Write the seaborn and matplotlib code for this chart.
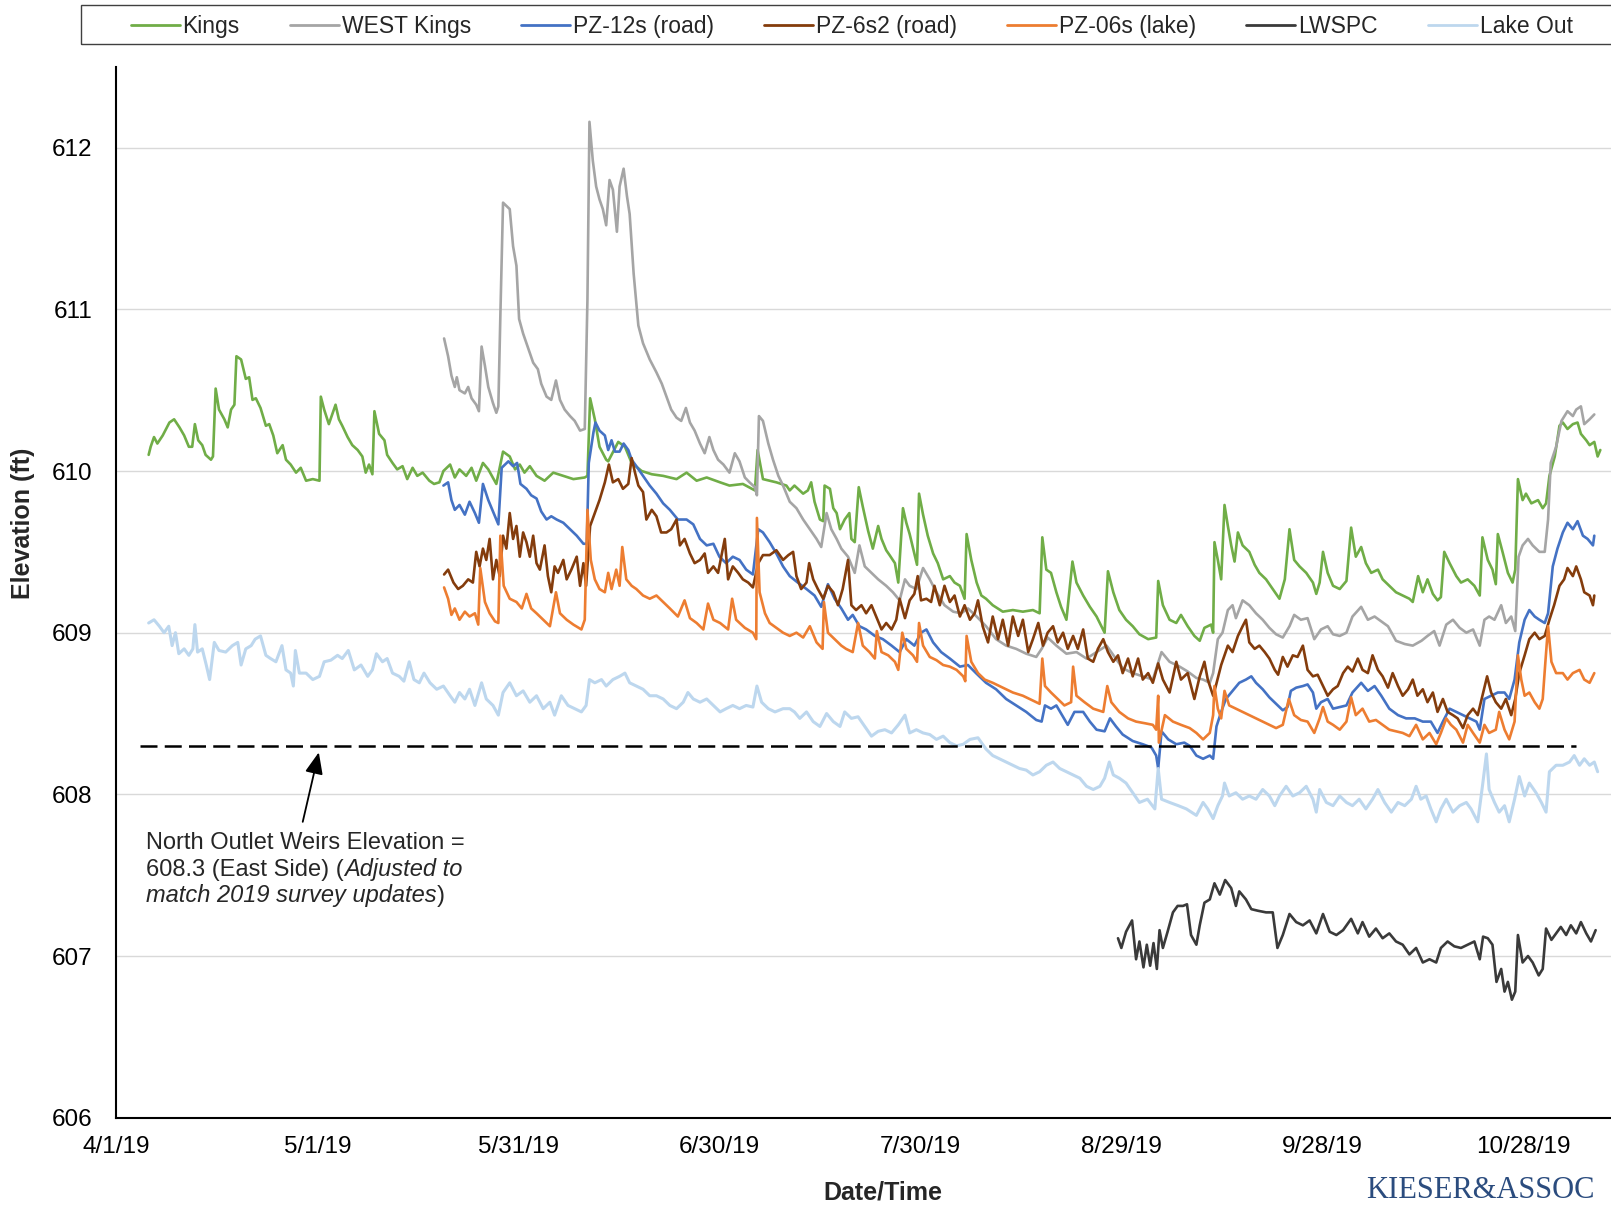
import numpy as np
import pandas as pd
import matplotlib
matplotlib.use("Agg")
import matplotlib.pyplot as plt
from matplotlib.lines import Line2D
from matplotlib.patches import Rectangle
import seaborn as sns

# ---------------- data (days after 4/1/19, elevation ft) ----------------
kings_days = [4.4, 4.7, 5.2, 5.7, 6.5, 7.0, 7.5, 8.2, 9.0, 9.7, 10.4, 10.9, 11.3, 11.8, 12.4, 12.9, 13.7, 14.0, 14.4, 14.9,
              15.7, 16.2, 16.7, 17.2, 17.5, 18.2, 18.9, 19.4, 19.9, 20.4, 21.1, 21.9, 22.4, 23.0, 23.6, 24.4, 24.9, 25.6, 26.4, 27.1,
              27.9, 28.9, 29.9, 30.1, 30.6, 31.3, 31.8, 32.3, 32.8, 33.3, 34.1, 34.8, 35.6, 36.3, 36.8, 37.3, 37.8, 38.1, 38.8, 39.6,
              40.0, 40.8, 41.5, 42.3, 43.0, 43.8, 44.5, 45.3, 46.3, 47.0, 47.8, 48.4, 49.4, 50.1, 50.8, 51.8, 52.6, 53.3, 54.3, 55.1,
              56.3, 57.3, 58.3, 59.1, 59.8, 60.5, 61.3, 62.3, 63.5, 64.8, 66.3, 67.8, 69.5, 69.9, 70.3, 71.0, 71.7, 72.7, 73.0, 74.5,
              75.5, 76.5, 78.0, 79.5, 81.2, 83.2, 84.7, 86.2, 87.7, 89.7, 91.1, 93.1, 94.9, 95.3, 96.1, 98.1, 99.6,
              100.1, 100.8, 102.1, 102.8, 103.3, 103.8, 104.6, 105.1, 105.3, 106.1, 106.6, 107.1, 107.6, 108.3, 109.0, 109.3, 109.8,
              110.4, 111.0, 111.8, 112.5, 113.3, 113.8, 114.5, 115.0, 115.8, 116.3, 117.0, 117.5, 118.0, 118.7, 119.1, 119.4, 120.0,
              120.7, 121.5, 122.2, 123.0, 124.0, 124.7, 125.5, 126.2, 126.5, 127.2, 128.0, 128.7, 129.4, 130.4, 131.9, 133.4, 134.9,
              136.4, 137.4, 137.8, 138.4, 139.1, 139.9, 140.6, 141.4, 142.3, 142.9, 143.9, 144.9, 145.9, 147.1, 147.6, 148.4, 149.3,
              150.3, 151.3, 152.3, 153.6, 154.8, 155.1, 155.8, 156.8, 157.8, 158.5, 159.5,
              160.5, 161.3, 162.0, 163.0, 163.3, 163.5, 164.0, 164.5, 165.0, 165.5, 166.0, 166.5, 167.0, 167.7, 168.7, 169.5, 170.2,
              171.2, 172.2, 173.2, 174.0, 174.7, 175.4, 176.2, 177.2, 178.2, 178.7, 179.2, 179.7, 180.4, 181.2, 182.2, 183.2, 183.9,
              184.6, 185.4, 186.1, 186.9, 187.9, 188.6, 189.6, 190.6, 191.6, 192.6, 193.1, 193.9, 194.6, 195.3, 196.1, 196.8, 197.3,
              197.8, 198.6, 199.6, 200.3, 201.3, 202.3, 203.1, 203.5, 204.3, 205.0, 205.5, 205.8, 206.5, 207.3, 208.0, 208.4, 208.8,
              209.5, 210.0, 210.8, 211.8, 212.5, 213.0, 213.5, 214.3, 215.0, 215.5, 216.2, 217.0, 217.7, 218.2, 219.0, 219.5, 220.2,
              220.7, 221.1]
kings_elev = [610.10, 610.15, 610.21, 610.17, 610.22, 610.26, 610.30, 610.32, 610.27, 610.22, 610.15, 610.15, 610.29, 610.19, 610.16, 610.10, 610.07, 610.09, 610.51, 610.38,
              610.32, 610.27, 610.38, 610.41, 610.71, 610.69, 610.57, 610.58, 610.44, 610.45, 610.39, 610.28, 610.29, 610.22, 610.11, 610.16, 610.07, 610.04, 609.99, 610.02,
              609.94, 609.95, 609.94, 610.46, 610.38, 610.29, 610.35, 610.41, 610.32, 610.28, 610.21, 610.16, 610.13, 610.09, 609.99, 610.04, 609.98, 610.37, 610.23, 610.19,
              610.10, 610.05, 610.01, 610.03, 609.95, 610.02, 609.97, 609.99, 609.94, 609.92, 609.93, 610.00, 610.04, 609.96, 610.01, 609.97, 610.02, 609.94, 610.05, 610.01,
              609.92, 610.12, 610.09, 610.01, 610.04, 609.99, 610.03, 609.97, 609.94, 609.99, 609.97, 609.95, 609.96, 609.97, 610.45, 610.32, 610.15, 610.07, 610.06, 610.18,
              610.15, 610.05, 610.00, 609.98, 609.97, 609.95, 609.99, 609.94, 609.96, 609.93, 609.91, 609.92, 609.88, 610.13, 609.95, 609.93, 609.91,
              609.88, 609.91, 609.86, 609.88, 609.93, 609.81, 609.70, 609.69, 609.91, 609.89, 609.77, 609.74, 609.64, 609.70, 609.74, 609.58, 609.56,
              609.90, 609.78, 609.63, 609.52, 609.66, 609.58, 609.51, 609.48, 609.43, 609.31, 609.77, 609.68, 609.61, 609.49, 609.42, 609.86, 609.73,
              609.60, 609.49, 609.43, 609.33, 609.35, 609.31, 609.29, 609.21, 609.61, 609.45, 609.31, 609.23, 609.21, 609.17, 609.13, 609.14, 609.13,
              609.14, 609.12, 609.59, 609.39, 609.37, 609.25, 609.16, 609.08, 609.44, 609.31, 609.23, 609.16, 609.10, 609.00, 609.38, 609.25, 609.14,
              609.08, 609.04, 608.99, 608.96, 608.97, 609.32, 609.17, 609.08, 609.06, 609.11, 609.04,
              608.98, 608.95, 609.03, 609.05, 609.00, 609.56, 609.45, 609.33, 609.79, 609.66, 609.54, 609.44, 609.62, 609.54, 609.50, 609.42, 609.37,
              609.33, 609.27, 609.21, 609.33, 609.64, 609.45, 609.41, 609.37, 609.31, 609.24, 609.31, 609.50, 609.37, 609.29, 609.27, 609.32, 609.65,
              609.47, 609.53, 609.43, 609.37, 609.39, 609.33, 609.29, 609.25, 609.23, 609.21, 609.19, 609.35, 609.25, 609.33, 609.24, 609.20, 609.22,
              609.50, 609.43, 609.35, 609.31, 609.33, 609.29, 609.23, 609.59, 609.45, 609.39, 609.30, 609.61, 609.50, 609.37, 609.31, 609.39, 609.95,
              609.82, 609.86, 609.80, 609.82, 609.77, 609.80, 609.97, 610.09, 610.28, 610.30, 610.26, 610.29, 610.30, 610.23, 610.19, 610.16, 610.18,
              610.09, 610.13]

west_days = [48.5, 49.1, 49.6, 50.1, 50.4, 50.8, 51.6, 52.1, 52.6, 53.3, 53.7, 54.1, 54.6, 55.1, 55.8, 56.3, 56.6, 56.9, 57.3, 57.8,
             58.3, 58.8, 59.3, 59.7, 60.3, 60.8, 61.3, 61.8, 62.5, 63.0, 63.8, 64.5, 65.2, 65.8, 66.5, 67.3, 68.0, 68.8, 69.5, 69.9,
             70.2, 70.7, 71.2, 71.7, 72.2, 72.7, 73.2, 73.7, 74.3, 74.7, 75.3, 75.8, 76.2, 76.8, 77.5, 78.2, 79.2, 80.2, 81.0, 81.7,
             82.4, 83.2, 83.9, 84.6, 85.2, 85.9, 86.7, 87.4, 88.1, 88.7, 89.4, 90.2, 91.1, 91.9, 92.6, 93.4, 94.1, 94.9, 95.2, 95.5,
             96.1, 96.9, 97.6, 98.4, 99.1,
             100.1, 101.1, 102.1, 103.1, 104.1, 104.8, 105.6, 106.3, 107.1, 107.8, 108.8, 109.8, 110.5, 111.3, 112.3, 113.3, 114.5,
             115.5, 116.5, 117.3, 118.0, 119.0, 120.0, 121.0, 122.0, 123.2, 124.5, 125.7, 126.7, 128.0, 129.4, 130.9, 132.4, 133.9,
             135.4, 136.9, 137.7, 138.6, 139.9, 141.4, 142.9, 144.4, 145.9, 147.4, 148.6, 149.8, 151.3, 152.8, 154.3, 155.6, 156.8,
             158.3, 159.5,
             160.8, 161.8, 162.8, 163.3, 164.0, 164.7, 165.5, 166.2, 166.7, 167.7, 168.7, 169.7, 170.7, 171.7, 172.7, 173.7, 174.7,
             175.4, 176.4, 177.4, 178.4, 179.4, 180.4, 181.2, 182.2, 183.2, 184.1, 185.4, 186.4, 187.4, 188.4, 189.4, 190.6, 191.9,
             193.1, 194.4, 195.3, 196.3, 197.1, 198.1, 199.1, 200.1, 201.1, 202.1, 203.1, 203.8, 204.5, 205.3, 206.3, 207.0, 207.8,
             208.4, 208.9, 209.5, 210.3, 211.0, 212.0, 212.8, 213.3, 213.7, 214.5, 215.3, 216.2, 217.0, 217.5, 218.2, 218.7, 219.5,
             220.2]
west_elev = [610.82, 610.71, 610.59, 610.52, 610.58, 610.50, 610.48, 610.52, 610.45, 610.41, 610.37, 610.77, 610.65, 610.52, 610.42, 610.36, 610.40, 610.96, 611.66, 611.64,
             611.62, 611.39, 611.27, 610.94, 610.85, 610.79, 610.73, 610.67, 610.63, 610.54, 610.46, 610.44, 610.56, 610.44, 610.38, 610.34, 610.31, 610.25, 610.26, 611.06,
             612.16, 611.92, 611.76, 611.68, 611.62, 611.52, 611.80, 611.74, 611.48, 611.76, 611.87, 611.70, 611.59, 611.22, 610.90, 610.79, 610.69, 610.61, 610.54, 610.46,
             610.38, 610.33, 610.31, 610.39, 610.30, 610.25, 610.17, 610.11, 610.21, 610.13, 610.07, 610.04, 609.99, 610.11, 610.06, 609.96, 609.93, 609.90, 609.85, 610.34,
             610.31, 610.17, 610.07, 609.97, 609.91,
             609.81, 609.77, 609.70, 609.64, 609.58, 609.53, 609.74, 609.64, 609.58, 609.52, 609.47, 609.37, 609.54, 609.41, 609.37, 609.33, 609.29,
             609.25, 609.20, 609.33, 609.29, 609.27, 609.40, 609.33, 609.25, 609.17, 609.13, 609.12, 609.15, 609.10, 609.04, 608.96, 608.92, 608.90,
             608.87, 608.85, 608.90, 608.97, 608.92, 608.87, 608.88, 608.84, 608.88, 608.92, 608.85, 608.78, 608.75, 608.73, 608.71, 608.88, 608.82,
             608.79, 608.76,
             608.72, 608.71, 608.69, 608.75, 608.96, 609.00, 609.14, 609.17, 609.09, 609.20, 609.17, 609.12, 609.08, 609.03, 608.99, 608.97, 609.04,
             609.11, 609.08, 609.09, 608.96, 609.02, 609.04, 608.99, 608.98, 609.00, 609.10, 609.16, 609.08, 609.10, 609.07, 609.04, 608.95, 608.93,
             608.92, 608.95, 608.98, 609.01, 608.92, 609.05, 609.08, 609.03, 609.00, 609.02, 608.92, 609.08, 609.10, 609.08, 609.17, 609.06, 609.10,
             609.01, 609.47, 609.54, 609.58, 609.54, 609.50, 609.50, 609.70, 610.05, 610.15, 610.31, 610.37, 610.34, 610.38, 610.40, 610.29, 610.32,
             610.35]

pz12_days = [48.4, 49.1, 49.6, 50.1, 50.8, 51.6, 52.3, 53.1, 53.7, 54.3, 55.1, 55.8, 56.6, 57.1, 58.1, 58.8, 59.4, 59.9, 60.8, 61.5,
             62.3, 63.0, 63.8, 64.5, 65.3, 66.3, 67.3, 68.3, 69.3, 69.8, 70.1, 70.8, 71.1, 71.7, 72.5, 73.0, 73.5, 74.0, 74.7, 75.3,
             76.0, 76.5, 77.2, 78.2, 79.2, 80.2, 81.2, 82.2, 83.4, 84.7, 85.7, 86.7, 87.7, 88.7, 89.6, 90.6, 91.6, 92.6, 93.6, 94.6,
             95.4, 96.1, 97.1, 98.1, 99.1, 100.1,
             101.3, 102.6, 103.8, 104.8, 105.8, 106.8, 107.8, 108.8, 109.5, 110.5, 111.5, 112.8, 114.0, 115.3, 116.5, 117.5, 118.7,
             119.7, 120.5, 121.5, 122.7, 124.0, 125.5, 126.7, 127.9, 129.4, 130.9, 132.4, 133.9, 135.4, 136.9, 137.7, 138.2, 139.1,
             139.9, 140.9, 141.6, 142.6, 143.9, 144.9, 145.9, 147.1, 147.9, 148.8, 149.8, 151.3, 152.8, 154.1, 154.8, 155.1, 155.6,
             156.6, 157.8, 159.0,
             159.8, 160.8, 161.8, 162.8, 163.3, 163.8, 164.5, 165.2, 166.2, 167.2, 168.2, 169.0, 169.7, 170.7, 171.7, 172.7, 173.7,
             174.4, 174.9, 175.7, 176.7, 177.4, 178.2, 178.7, 179.4, 180.4, 181.2, 182.2, 183.2, 184.1, 185.4, 186.4, 187.4, 188.4,
             189.6, 190.9, 192.1, 193.4, 194.6, 195.8, 196.8, 197.6, 198.6, 199.6, 200.6, 201.6, 202.6, 203.1, 203.8, 204.8, 205.8,
             206.8, 207.5, 208.3, 209.0, 209.8, 210.5, 211.3, 212.0, 212.8, 213.3, 214.0, 214.7, 215.5, 216.2, 217.0, 217.7, 218.5,
             219.2, 220.0, 220.2]
pz12_elev = [609.91, 609.93, 609.82, 609.76, 609.79, 609.73, 609.81, 609.74, 609.68, 609.92, 609.82, 609.75, 609.67, 610.02, 610.06, 610.03, 610.05, 609.92, 609.89, 609.85,
             609.83, 609.75, 609.70, 609.72, 609.70, 609.68, 609.64, 609.60, 609.55, 609.55, 610.05, 610.24, 610.30, 610.25, 610.22, 610.13, 610.19, 610.12, 610.12, 610.17,
             610.13, 610.07, 610.03, 609.97, 609.91, 609.86, 609.80, 609.76, 609.70, 609.70, 609.67, 609.58, 609.54, 609.55, 609.47, 609.43, 609.47, 609.45, 609.39, 609.36,
             609.64, 609.62, 609.56, 609.49, 609.41, 609.35,
             609.31, 609.27, 609.23, 609.16, 609.30, 609.21, 609.15, 609.08, 609.11, 609.04, 609.02, 608.98, 608.96, 608.92, 608.88, 608.96, 608.92,
             609.00, 609.02, 608.94, 608.88, 608.84, 608.79, 608.80, 608.75, 608.69, 608.65, 608.59, 608.55, 608.51, 608.46, 608.45, 608.55, 608.53,
             608.55, 608.48, 608.43, 608.51, 608.51, 608.45, 608.40, 608.39, 608.47, 608.42, 608.37, 608.33, 608.31, 608.29, 608.24, 608.16, 608.39,
             608.34, 608.31, 608.32,
             608.30, 608.24, 608.22, 608.24, 608.22, 608.42, 608.51, 608.59, 608.64, 608.69, 608.71, 608.73, 608.69, 608.65, 608.60, 608.56, 608.52,
             608.54, 608.64, 608.66, 608.67, 608.68, 608.63, 608.53, 608.57, 608.59, 608.53, 608.54, 608.55, 608.63, 608.69, 608.64, 608.67, 608.61,
             608.53, 608.49, 608.47, 608.47, 608.45, 608.45, 608.38, 608.45, 608.53, 608.51, 608.49, 608.47, 608.45, 608.40, 608.59, 608.61, 608.63,
             608.63, 608.59, 608.71, 608.94, 609.08, 609.14, 609.10, 609.08, 609.06, 609.12, 609.41, 609.52, 609.62, 609.68, 609.64, 609.69, 609.60,
             609.58, 609.54, 609.60]

pz6_days = [48.5, 49.1, 49.9, 50.6, 51.3, 52.1, 52.8, 53.3, 53.8, 54.3, 54.8, 55.3, 55.8, 56.3, 56.8, 57.3, 57.8, 58.3, 58.8, 59.3,
            59.8, 60.3, 60.8, 61.3, 61.8, 62.3, 62.8, 63.5, 64.0, 64.5, 65.0, 65.5, 66.3, 66.8, 67.5, 68.3, 68.8, 69.3, 69.7, 70.3,
            71.0, 71.7, 72.5, 73.1, 73.7, 74.5, 75.2, 76.0, 76.5, 77.0, 77.5, 78.2, 78.7, 79.5, 80.2, 80.9, 81.7, 82.4, 83.2, 83.7,
            84.4, 85.2, 85.9, 86.7, 87.4, 87.9, 88.7, 89.4, 90.4, 90.9, 91.6, 92.4, 93.1, 93.9, 94.6, 95.4, 96.1, 97.1, 98.1, 99.1,
            99.9,
            100.6, 101.1, 101.8, 102.6, 103.0, 103.6, 104.3, 105.1, 105.8, 106.6, 107.3, 108.0, 108.8, 109.3, 110.0, 110.8, 111.5,
            112.3, 113.0, 113.8, 114.5, 115.3, 116.0, 116.5, 117.3, 118.0, 118.7, 119.2, 119.7, 120.5, 121.2, 121.7, 122.5, 123.2,
            124.0, 124.7, 125.5, 126.2, 127.0, 127.7, 128.2, 128.9, 129.7, 130.4, 131.2, 131.9, 132.7, 133.4, 134.2, 134.9, 135.7,
            136.4, 137.2, 137.9, 138.6, 139.4, 140.1, 140.9, 141.6, 142.4, 143.1, 143.9, 144.6, 145.4, 146.1, 146.9, 147.6, 148.4,
            149.1, 149.8, 150.6, 151.3, 152.1, 152.8, 153.6, 154.3, 155.1, 155.8, 156.8, 157.8, 158.5, 159.5,
            160.5, 161.3, 162.0, 162.5, 163.3, 163.7, 164.5, 165.0, 165.5, 166.2, 167.0, 167.7, 168.2, 168.7, 169.5, 170.2, 171.0,
            171.7, 172.5, 173.0, 173.7, 174.4, 175.2, 175.9, 176.7, 177.4, 178.2, 178.9, 179.7, 180.4, 181.2, 181.9, 182.7, 183.4,
            184.1, 184.9, 185.6, 186.4, 187.1, 187.9, 188.6, 189.4, 190.1, 190.9, 191.6, 192.4, 193.1, 193.8, 194.6, 195.3, 196.1,
            196.8, 197.6, 198.3, 199.1, 199.8, 200.6, 201.3, 202.1, 202.8, 203.5, 204.2, 204.8, 205.5, 206.3, 207.0, 207.8, 208.4,
            209.0, 209.8, 210.5, 211.3, 212.0, 212.8, 213.5, 214.2, 215.0, 215.7, 216.2, 217.0, 217.5, 218.2, 218.7, 219.5, 220.0,
            220.2]
pz6_elev = [609.36, 609.39, 609.31, 609.27, 609.29, 609.33, 609.31, 609.50, 609.41, 609.52, 609.45, 609.58, 609.33, 609.45, 609.35, 609.60, 609.52, 609.74, 609.58, 609.66,
            609.47, 609.62, 609.56, 609.47, 609.60, 609.43, 609.39, 609.54, 609.35, 609.25, 609.41, 609.37, 609.45, 609.33, 609.39, 609.47, 609.29, 609.43, 609.29, 609.66,
            609.74, 609.82, 609.93, 610.04, 609.93, 609.95, 609.89, 609.92, 610.08, 609.99, 609.91, 609.87, 609.70, 609.76, 609.72, 609.62, 609.62, 609.64, 609.70, 609.54,
            609.58, 609.49, 609.43, 609.45, 609.49, 609.37, 609.41, 609.37, 609.58, 609.33, 609.41, 609.37, 609.33, 609.31, 609.28, 609.43, 609.48, 609.48, 609.51, 609.45,
            609.48,
            609.50, 609.35, 609.27, 609.31, 609.43, 609.33, 609.27, 609.21, 609.29, 609.25, 609.17, 609.27, 609.45, 609.17, 609.14, 609.17, 609.12,
            609.17, 609.10, 609.02, 609.06, 609.02, 609.08, 609.21, 609.09, 609.20, 609.24, 609.35, 609.20, 609.21, 609.19, 609.29, 609.17, 609.29,
            609.19, 609.23, 609.10, 609.17, 609.08, 609.12, 609.20, 609.04, 608.94, 609.10, 608.96, 609.08, 608.92, 609.10, 608.98, 609.08, 608.88,
            608.96, 609.06, 608.92, 609.00, 609.04, 608.94, 609.00, 608.90, 608.98, 608.90, 609.02, 608.84, 608.82, 608.90, 608.96, 608.88, 608.82,
            608.86, 608.75, 608.84, 608.73, 608.84, 608.71, 608.75, 608.69, 608.81, 608.71, 608.63, 608.82, 608.71, 608.75,
            608.59, 608.73, 608.82, 608.71, 608.61, 608.67, 608.80, 608.86, 608.92, 608.88, 608.98, 609.04, 609.08, 608.94, 608.90, 608.92, 608.88,
            608.84, 608.77, 608.74, 608.85, 608.79, 608.86, 608.85, 608.92, 608.77, 608.73, 608.74, 608.67, 608.61, 608.65, 608.67, 608.75, 608.79,
            608.76, 608.84, 608.77, 608.75, 608.86, 608.77, 608.73, 608.66, 608.75, 608.67, 608.61, 608.65, 608.71, 608.61, 608.65, 608.57, 608.63,
            608.51, 608.59, 608.51, 608.49, 608.47, 608.41, 608.49, 608.53, 608.49, 608.61, 608.73, 608.63, 608.57, 608.53, 608.59, 608.49, 608.59,
            608.75, 608.86, 608.96, 609.00, 608.96, 608.98, 609.08, 609.17, 609.29, 609.33, 609.40, 609.35, 609.41, 609.33, 609.25, 609.23, 609.17,
            609.23]

pz06_days = [48.5, 49.1, 49.6, 50.1, 50.8, 51.6, 52.3, 53.1, 53.6, 53.9, 54.6, 55.3, 56.1, 56.6, 56.9, 57.4, 58.3, 59.3, 60.1, 60.8,
             61.5, 62.3, 63.3, 64.3, 65.2, 65.8, 66.8, 67.8, 69.0, 69.5, 69.9, 70.4, 71.0, 71.7, 72.5, 73.0, 73.5, 74.2, 74.7, 75.1,
             75.7, 76.5, 77.2, 78.2, 79.2, 80.2, 81.2, 82.2, 83.4, 84.4, 85.2, 86.2, 87.2, 87.9, 88.7, 89.7, 90.9, 91.5, 92.1, 93.4,
             94.6, 95.1, 95.2, 95.6, 96.4, 97.1, 98.1, 99.1,
             100.1, 101.1, 102.1, 103.1, 104.1, 105.0, 105.2, 105.8, 106.8, 107.8, 108.5, 109.5, 110.3, 111.0, 112.0, 112.8, 113.1,
             113.8, 114.8, 115.8, 116.3, 116.9, 117.5, 118.5, 119.1, 119.4, 120.0, 121.0, 122.0, 123.0, 124.0, 125.0, 126.0, 126.3,
             126.5, 127.2, 128.2, 129.2, 130.4, 131.9, 133.4, 134.9, 136.4, 137.4, 137.8, 138.2, 139.1, 140.1, 141.1, 142.1, 142.4,
             142.9, 144.1, 145.4, 146.9, 147.5, 148.1, 149.3, 150.6, 151.8, 153.1, 154.3, 154.8, 155.1, 155.2, 156.1, 157.3, 158.5,
             159.8,
             160.8, 161.8, 162.8, 163.3, 163.5, 164.0, 164.5, 165.0, 165.7, 166.7, 167.7, 168.7, 169.7, 170.7, 171.7, 172.7, 173.7,
             174.6, 175.4, 176.4, 177.4, 178.4, 179.2, 179.7, 180.4, 181.2, 182.2, 183.2, 183.9, 184.6, 185.6, 186.6, 187.6, 188.6,
             189.6, 190.6, 191.6, 192.6, 193.6, 194.6, 195.6, 196.6, 197.3, 198.1, 198.8, 199.6, 200.6, 201.3, 202.1, 203.1, 203.8,
             204.5, 205.5, 206.0, 206.8, 207.5, 208.3, 208.8, 209.3, 209.8, 210.5, 211.3, 212.0, 212.5, 212.9, 213.3, 213.8, 214.5,
             215.5, 216.2, 217.0, 218.0, 218.7, 219.5, 220.2]
pz06_elev = [609.28, 609.21, 609.11, 609.15, 609.08, 609.13, 609.10, 609.12, 609.05, 609.40, 609.19, 609.12, 609.07, 609.06, 609.60, 609.29, 609.21, 609.19, 609.15, 609.24,
             609.15, 609.12, 609.08, 609.04, 609.25, 609.12, 609.08, 609.05, 609.02, 609.08, 609.76, 609.45, 609.33, 609.27, 609.25, 609.37, 609.27, 609.39, 609.29, 609.53,
             609.33, 609.29, 609.27, 609.23, 609.21, 609.23, 609.19, 609.15, 609.10, 609.20, 609.09, 609.06, 609.02, 609.18, 609.08, 609.06, 609.02, 609.21, 609.08, 609.03,
             609.00, 608.96, 609.71, 609.25, 609.12, 609.06, 609.03, 609.00,
             608.98, 609.00, 608.97, 609.04, 608.94, 608.90, 609.19, 609.00, 608.96, 608.92, 608.90, 608.88, 609.06, 608.92, 608.88, 608.84, 609.01,
             608.88, 608.86, 608.82, 608.77, 609.00, 608.90, 608.86, 608.82, 609.06, 608.92, 608.85, 608.83, 608.80, 608.79, 608.77, 608.73, 608.70,
             608.98, 608.82, 608.75, 608.71, 608.69, 608.66, 608.63, 608.61, 608.58, 608.56, 608.84, 608.67, 608.63, 608.59, 608.55, 608.57, 608.79,
             608.61, 608.57, 608.53, 608.51, 608.67, 608.57, 608.51, 608.47, 608.45, 608.44, 608.43, 608.40, 608.61, 608.32, 608.49, 608.45, 608.43,
             608.41,
             608.38, 608.34, 608.38, 608.49, 608.67, 608.53, 608.47, 608.64, 608.55, 608.53, 608.51, 608.49, 608.47, 608.45, 608.43, 608.41, 608.43,
             608.59, 608.49, 608.46, 608.45, 608.38, 608.47, 608.54, 608.45, 608.43, 608.40, 608.45, 608.60, 608.49, 608.53, 608.45, 608.46, 608.43,
             608.40, 608.39, 608.38, 608.36, 608.43, 608.34, 608.38, 608.31, 608.38, 608.47, 608.43, 608.40, 608.32, 608.43, 608.38, 608.32, 608.43,
             608.38, 608.40, 608.51, 608.40, 608.34, 608.45, 608.86, 608.71, 608.61, 608.63, 608.57, 608.53, 608.59, 608.82, 609.04, 608.82, 608.75,
             608.75, 608.71, 608.75, 608.77, 608.71, 608.69, 608.75]

lwspc_days = [149.1, 149.6, 150.3, 151.2, 151.8, 152.3, 152.9, 153.4, 153.9, 154.4, 154.9, 155.3, 155.8, 156.5, 157.3, 158.0, 158.8, 159.4, 160.0, 160.8,
              161.3, 162.0, 162.8, 163.5, 164.3, 165.1, 166.0, 166.7, 167.2, 168.2, 169.0, 170.0, 171.2, 172.2, 172.9, 173.7, 174.7, 175.7, 176.7, 177.7,
              178.7, 179.7, 180.7, 181.7, 182.7, 183.9, 184.9, 185.6, 186.6, 187.6, 188.6, 189.6, 190.6, 191.6, 192.6, 193.6, 194.6, 195.6, 196.6, 197.3,
              198.3, 199.3, 200.3, 201.3, 202.3, 203.1, 203.6, 204.3, 205.0, 205.6, 206.3, 206.8, 207.3, 207.9, 208.4, 208.8, 209.5, 210.3, 211.0, 211.9,
              212.5, 213.0, 213.8, 214.5, 215.2, 216.0, 216.7, 217.5, 218.2, 219.0, 219.7, 220.4]
lwspc_elev = [607.11, 607.05, 607.15, 607.22, 606.98, 607.09, 606.93, 607.07, 606.94, 607.08, 606.92, 607.16, 607.05, 607.15, 607.27, 607.31, 607.31, 607.32, 607.13, 607.07,
              607.19, 607.33, 607.35, 607.45, 607.38, 607.47, 607.42, 607.31, 607.40, 607.35, 607.29, 607.28, 607.27, 607.27, 607.05, 607.13, 607.26, 607.21, 607.19, 607.22,
              607.14, 607.26, 607.15, 607.13, 607.16, 607.23, 607.14, 607.21, 607.12, 607.17, 607.11, 607.14, 607.09, 607.07, 607.01, 607.05, 606.96, 606.98, 606.96, 607.05,
              607.09, 607.06, 607.05, 607.07, 607.09, 606.98, 607.12, 607.11, 607.07, 606.84, 606.92, 606.78, 606.84, 606.73, 606.78, 607.13, 606.96, 607.00, 606.96, 606.88,
              606.92, 607.17, 607.10, 607.14, 607.18, 607.13, 607.19, 607.14, 607.21, 607.14, 607.09, 607.16]

lake_days = [4.4, 5.2, 6.0, 6.7, 7.4, 7.9, 8.4, 8.9, 9.7, 10.4, 11.0, 11.3, 11.7, 12.4, 13.0, 13.5, 14.2, 14.9, 15.9, 16.9,
             17.7, 18.2, 18.9, 19.7, 20.3, 21.1, 21.9, 22.6, 23.4, 24.3, 24.9, 25.6, 26.0, 26.3, 26.9, 27.9, 28.9, 29.9, 30.6, 31.6,
             32.6, 33.3, 34.2, 35.1, 36.1, 37.1, 37.8, 38.4, 39.3, 40.0, 40.8, 41.8, 42.5, 43.3, 44.0, 44.8, 45.5,
             46.4, 47.4, 48.4, 49.4, 50.1, 50.8, 51.6, 52.3, 53.1, 54.1, 54.8, 55.8, 56.6, 57.3, 58.3, 59.3, 60.3, 61.3, 62.3, 63.3,
             64.3, 65.0, 66.0, 67.0, 68.0, 69.0, 69.7, 70.2, 71.0, 72.0, 72.7, 73.7, 74.7, 75.5, 76.2, 77.2, 78.2, 79.2, 80.2, 81.2,
             82.2, 83.2, 84.2, 84.9, 85.7, 86.7, 87.7, 88.7, 89.7, 90.6, 91.6, 92.6, 93.6, 94.6, 95.2, 95.9, 96.9, 97.9, 99.1,
             100.1, 100.8, 101.6, 102.6, 103.6, 104.6, 105.6, 106.6, 107.6, 108.3, 109.3, 110.3, 111.3, 112.3, 113.3, 114.3, 115.3,
             116.3, 117.3, 118.0, 119.0, 120.0, 121.0, 122.0, 123.0, 124.0, 125.0, 126.0, 127.0, 128.2, 129.4, 130.4, 131.4, 132.4,
             133.4, 134.4, 135.4, 136.4, 137.4, 138.4, 139.4, 140.4, 141.4, 142.4, 143.4, 144.4, 145.4, 146.4, 147.1, 147.8, 148.4,
             149.3, 150.3, 151.3, 152.3, 153.5, 154.6, 155.1, 155.6, 156.8, 158.1, 159.3,
             160.8, 161.8, 162.5, 163.3, 164.0, 164.7, 165.0, 165.7, 166.7, 167.7, 168.7, 169.7, 170.7, 171.7, 172.5, 173.2, 174.2,
             175.2, 176.2, 177.2, 178.2, 178.7, 179.2, 180.2, 181.2, 182.2, 183.2, 184.1, 185.1, 186.1, 187.1, 187.9, 188.9, 189.9,
             190.9, 191.9, 192.9, 193.6, 194.3, 195.1, 195.8, 196.6, 197.3, 198.1, 199.1, 200.1, 201.1, 201.8, 202.8, 203.5, 204.1,
             204.5, 205.3, 206.0, 206.8, 207.5, 208.3, 209.0, 209.8, 210.5, 211.5, 212.3, 213.0, 213.5, 214.5, 215.5, 216.5, 217.2,
             218.0, 218.7, 219.5, 220.2, 220.7]
lake_elev = [609.06, 609.08, 609.04, 609.00, 609.04, 608.92, 609.00, 608.87, 608.90, 608.86, 608.90, 609.05, 608.88, 608.90, 608.80, 608.71, 608.94, 608.89, 608.88, 608.92,
             608.94, 608.80, 608.90, 608.92, 608.96, 608.98, 608.86, 608.84, 608.82, 608.92, 608.77, 608.75, 608.67, 608.89, 608.75, 608.75, 608.71, 608.73, 608.82, 608.83,
             608.86, 608.84, 608.89, 608.77, 608.80, 608.73, 608.77, 608.87, 608.82, 608.84, 608.75, 608.73, 608.70, 608.82, 608.71, 608.69, 608.75,
             608.69, 608.65, 608.67, 608.61, 608.57, 608.63, 608.59, 608.65, 608.55, 608.69, 608.59, 608.55, 608.49, 608.63, 608.69, 608.61, 608.64, 608.57, 608.61, 608.53,
             608.57, 608.49, 608.61, 608.55, 608.53, 608.51, 608.55, 608.71, 608.69, 608.71, 608.67, 608.71, 608.73, 608.75, 608.69, 608.67, 608.65, 608.61, 608.61, 608.59,
             608.55, 608.53, 608.57, 608.63, 608.59, 608.57, 608.59, 608.55, 608.51, 608.53, 608.55, 608.53, 608.55, 608.54, 608.67, 608.57, 608.53, 608.51, 608.53,
             608.53, 608.51, 608.47, 608.51, 608.45, 608.42, 608.50, 608.45, 608.42, 608.51, 608.47, 608.48, 608.42, 608.36, 608.39, 608.40, 608.38,
             608.43, 608.49, 608.38, 608.40, 608.38, 608.37, 608.34, 608.36, 608.32, 608.30, 608.31, 608.34, 608.35, 608.28, 608.24, 608.22, 608.20,
             608.18, 608.16, 608.15, 608.12, 608.14, 608.18, 608.20, 608.16, 608.14, 608.12, 608.10, 608.05, 608.03, 608.05, 608.10, 608.20, 608.12,
             608.10, 608.07, 608.01, 607.95, 607.97, 607.91, 608.16, 607.97, 607.95, 607.93, 607.91,
             607.87, 607.95, 607.91, 607.85, 607.93, 607.99, 608.07, 607.99, 608.01, 607.97, 607.99, 607.97, 608.03, 607.99, 607.93, 607.99, 608.05,
             607.99, 608.01, 608.05, 607.97, 607.89, 608.03, 607.95, 607.93, 607.99, 607.95, 607.93, 607.97, 607.91, 607.97, 608.03, 607.95, 607.89,
             607.95, 607.93, 607.97, 608.05, 607.97, 607.99, 607.91, 607.83, 607.91, 607.97, 607.89, 607.93, 607.95, 607.91, 607.83, 608.05, 608.25,
             608.03, 607.95, 607.89, 607.93, 607.83, 607.97, 608.11, 607.99, 608.07, 608.01, 607.95, 607.89, 608.14, 608.18, 608.18, 608.20, 608.24,
             608.18, 608.22, 608.18, 608.20, 608.14]

weir_days = [3.1, 217.5]
weir_elev = [608.3, 608.3]

series_names = ["Kings", "WEST Kings", "PZ-12s (road)", "PZ-6s2 (road)", "PZ-06s (lake)", "LWSPC", "Lake Out"]
series_colors = ["#70AD47", "#A5A5A5", "#4472C4", "#843C0C", "#ED7D31", "#3A3A3A", "#BDD7EE"]
series_widths = [1.9, 1.9, 1.9, 1.9, 1.9, 1.9, 2.2]

xtick_dates = ["2019-04-01", "2019-05-01", "2019-05-31", "2019-06-30", "2019-07-30",
               "2019-08-29", "2019-09-28", "2019-10-28"]
xtick_labels = ["4/1/19", "5/1/19", "5/31/19", "6/30/19", "7/30/19", "8/29/19", "9/28/19", "10/28/19"]
ytick_values = [606, 607, 608, 609, 610, 611, 612]
ytick_labels = ["606", "607", "608", "609", "610", "611", "612"]

# ---------------- build table ----------------
day0 = pd.Timestamp("2019-04-01")
t0 = day0 + pd.Timedelta(hours=9.6)   # reading calibration of the digitised x positions


def to_dates(days):
    return t0 + pd.to_timedelta(np.asarray(days, dtype=float), unit="D")


all_days = [kings_days, west_days, pz12_days, pz6_days, pz06_days, lwspc_days, lake_days]
all_elev = [kings_elev, west_elev, pz12_elev, pz6_elev, pz06_elev, lwspc_elev, lake_elev]
frames = []
for name, d, v in zip(series_names, all_days, all_elev):
    frames.append(pd.DataFrame({"Date": to_dates(d), "Elevation": v, "Series": name}))
df = pd.concat(frames, ignore_index=True)

# ---------------- style ----------------
sns.set_style("white")
plt.rcParams["font.family"] = ["Liberation Sans", "DejaVu Sans"]

W, H = 1611, 1207
fig = plt.figure(figsize=(W / 100, H / 100), dpi=100)
px_per_day = 6.699
span_days = 225
ax = fig.add_axes([116.5 / W, 1 - 1117.7 / H, span_days * px_per_day / W, 6.5 * 161.67 / H])

for name, col, lw in zip(series_names, series_colors, series_widths):
    sns.lineplot(data=df[df["Series"] == name], x="Date", y="Elevation", color=col, linewidth=lw,
                 estimator=None, sort=False, ax=ax, legend=False)

ax.plot(to_dates(weir_days), weir_elev, color="black", linewidth=1.8, dashes=(6.8, 2.9), zorder=5)

ax.set_xlabel("")
ax.set_ylabel("")

ax.set_xticks(pd.to_datetime(xtick_dates))
ax.set_xticklabels(xtick_labels)
ax.set_xticks(pd.date_range(day0, periods=23, freq="10D"), minor=True)
ax.set_yticks(ytick_values)
ax.set_yticklabels(ytick_labels)
ax.set_yticks(np.round(np.arange(606, 612.51, 0.1), 1), minor=True)

# limits after ticks so the tick setters do not widen the view
ax.set_xlim(day0, day0 + pd.Timedelta(days=span_days))
ax.set_ylim(606, 612.5)

ax.tick_params(axis="x", which="major", direction="inout", length=13, width=1.2, pad=7, labelsize=17.5, colors="black")
ax.tick_params(axis="x", which="minor", direction="in", length=6, width=1.2, colors="black")
ax.tick_params(axis="y", which="major", direction="inout", length=13, width=1.2, pad=11, labelsize=17.5, colors="black")
ax.tick_params(axis="y", which="minor", direction="inout", length=10, width=1.2, colors="black")

ax.yaxis.grid(True, color="#D9D9D9", linewidth=1.0)
ax.xaxis.grid(False)
ax.set_axisbelow(True)
for side in ["top", "right"]:
    ax.spines[side].set_visible(False)
for side in ["left", "bottom"]:
    ax.spines[side].set_color("black")
    ax.spines[side].set_linewidth(1.5)

# ---------------- annotation ----------------
fs = 17
xa = to_dates([4.0])[0]
ax.annotate("", xy=(to_dates([29.8])[0], 608.26), xytext=(to_dates([27.4])[0], 607.83),
            arrowprops=dict(arrowstyle="-|>,head_length=0.6,head_width=0.25", color="black", lw=1.3,
                            mutation_scale=22, shrinkA=0, shrinkB=0))
ax.text(xa, 607.663, "North Outlet Weirs Elevation =", fontsize=fs, va="baseline", ha="left")
t2a = ax.text(xa, 607.498, "608.3 (East Side) (", fontsize=fs, va="baseline", ha="left")
ax.annotate("Adjusted to", xy=(1, 0), xycoords=t2a, va="bottom", ha="left", fontsize=fs, style="italic")
t3a = ax.text(xa, 607.333, "match 2019 survey updates", fontsize=fs, va="baseline", ha="left", style="italic")
ax.annotate(")", xy=(1, 0), xycoords=t3a, va="bottom", ha="left", fontsize=fs)

# ---------------- labels ----------------
fig.text(22.6 / W, 1 - 523 / H, "Elevation (ft)", rotation=90, ha="center", va="center",
         fontsize=18, fontweight="bold")
fig.text(882.5 / W, 1 - 1192 / H, "Date/Time", ha="center", va="center", fontsize=18, fontweight="bold")
fig.text(1366 / W, 1.5 / H, "KIESER&ASSOC", ha="left", va="bottom", fontsize=22,
         family=["Liberation Serif", "DejaVu Serif"], color="#2B4C7E")

# ---------------- legend ----------------
handles = [Line2D([0], [0], color=c, linewidth=2.0) for c in series_colors]
lfs = 16.5
fig.legend(handles, series_names, loc="center left", bbox_to_anchor=(130.5 / W, 1 - 26.5 / H),
           bbox_transform=fig.transFigure, ncol=7, frameon=False, fontsize=lfs,
           handlelength=49 / (lfs * 100 / 72), handletextpad=3 / (lfs * 100 / 72),
           columnspacing=50 / (lfs * 100 / 72), borderpad=0, borderaxespad=0)
fig.add_artist(Rectangle((81 / W, 1 - 44 / H), 1.0, 39 / H, transform=fig.transFigure,
                         fill=False, edgecolor="#404040", linewidth=1.0, clip_on=False))

fig.savefig("out.png", dpi=100)
